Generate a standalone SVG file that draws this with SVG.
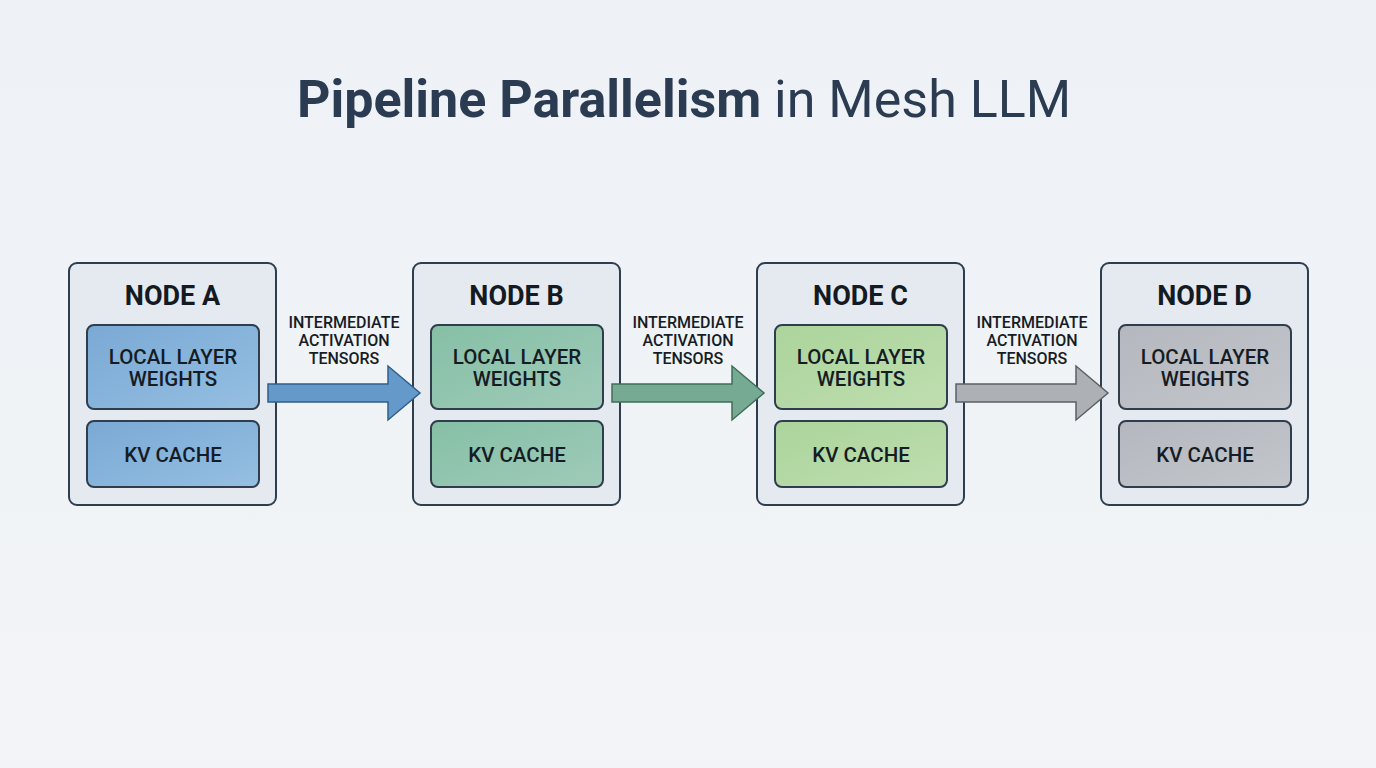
<svg xmlns="http://www.w3.org/2000/svg" width="1376" height="768" viewBox="0 0 1376 768">
<defs>
<linearGradient id="bg" x1="0" y1="0" x2="0" y2="1">
<stop offset="0" stop-color="#eef2f6"/>
<stop offset="1" stop-color="#f2f4f7"/>
</linearGradient>
<linearGradient id="gA" x1="0" y1="0" x2="1" y2="1"><stop offset="0" stop-color="#7aa9d4"/><stop offset="1" stop-color="#95bfe2"/></linearGradient>
<linearGradient id="gB" x1="0" y1="0" x2="1" y2="1"><stop offset="0" stop-color="#86bfa6"/><stop offset="1" stop-color="#9fcbb8"/></linearGradient>
<linearGradient id="gC" x1="0" y1="0" x2="1" y2="1"><stop offset="0" stop-color="#abd49b"/><stop offset="1" stop-color="#bfdeb0"/></linearGradient>
<linearGradient id="gD" x1="0" y1="0" x2="1" y2="1"><stop offset="0" stop-color="#b4b7bd"/><stop offset="1" stop-color="#c3c6cb"/></linearGradient>
<style>
.outer{fill:#e5eaf1;stroke:#2f3d4d;stroke-width:2}
.inner{stroke:#2f3d4d;stroke-width:2}
.title{font-family:Roboto,"Liberation Sans",sans-serif;font-size:27px;font-weight:700;fill:#141a22;text-anchor:middle;dominant-baseline:central}
.lbl{font-family:Roboto,"Liberation Sans",sans-serif;font-size:20.5px;font-weight:500;fill:#161c24;text-anchor:middle;dominant-baseline:central}
.edge{font-family:Roboto,"Liberation Sans",sans-serif;font-size:16px;font-weight:500;fill:#161c24;text-anchor:middle;dominant-baseline:central}
.arr{stroke-width:1.5;stroke-linejoin:miter}
</style>
</defs>
<rect width="1376" height="768" fill="url(#bg)"/>
<text x="684" y="117" text-anchor="middle" font-family="Roboto,'Liberation Sans',sans-serif" font-size="52" fill="#2b3c52"><tspan font-weight="700">Pipeline Parallelism</tspan> in Mesh LLM</text>

<g id="nodeA">
<rect class="outer" x="69" y="263" width="207" height="242" rx="8"/>
<text class="title" x="172.5" y="296">NODE A</text>
<rect class="inner" x="87" y="325" width="172" height="84" rx="7" fill="url(#gA)"/>
<text class="lbl" x="173" y="357">LOCAL LAYER</text>
<text class="lbl" x="173" y="379">WEIGHTS</text>
<rect class="inner" x="87" y="421" width="172" height="66" rx="7" fill="url(#gA)"/>
<text class="lbl" x="173" y="455">KV CACHE</text>
</g>
<g id="nodeB">
<rect class="outer" x="413" y="263" width="207" height="242" rx="8"/>
<text class="title" x="516.5" y="296">NODE B</text>
<rect class="inner" x="431" y="325" width="172" height="84" rx="7" fill="url(#gB)"/>
<text class="lbl" x="517" y="357">LOCAL LAYER</text>
<text class="lbl" x="517" y="379">WEIGHTS</text>
<rect class="inner" x="431" y="421" width="172" height="66" rx="7" fill="url(#gB)"/>
<text class="lbl" x="517" y="455">KV CACHE</text>
</g>
<g id="nodeC">
<rect class="outer" x="757" y="263" width="207" height="242" rx="8"/>
<text class="title" x="860.5" y="296">NODE C</text>
<rect class="inner" x="775" y="325" width="172" height="84" rx="7" fill="url(#gC)"/>
<text class="lbl" x="861" y="357">LOCAL LAYER</text>
<text class="lbl" x="861" y="379">WEIGHTS</text>
<rect class="inner" x="775" y="421" width="172" height="66" rx="7" fill="url(#gC)"/>
<text class="lbl" x="861" y="455">KV CACHE</text>
</g>
<g id="nodeD">
<rect class="outer" x="1101" y="263" width="207" height="242" rx="8"/>
<text class="title" x="1204.5" y="296">NODE D</text>
<rect class="inner" x="1119" y="325" width="172" height="84" rx="7" fill="url(#gD)"/>
<text class="lbl" x="1205" y="357">LOCAL LAYER</text>
<text class="lbl" x="1205" y="379">WEIGHTS</text>
<rect class="inner" x="1119" y="421" width="172" height="66" rx="7" fill="url(#gD)"/>
<text class="lbl" x="1205" y="455">KV CACHE</text>
</g>

<g id="connectors">
<polygon class="arr" points="268,384 388,384 388,366 420,393 388,420 388,402 268,402" fill="#6499c9" stroke="#2f5f8c"/>
<text class="edge" x="344" y="322">INTERMEDIATE</text>
<text class="edge" x="344" y="340">ACTIVATION</text>
<text class="edge" x="344" y="358">TENSORS</text>
<polygon class="arr" points="612,384 732,384 732,366 764,393 732,420 732,402 612,402" fill="#76aa92" stroke="#3f6e5a"/>
<text class="edge" x="688" y="322">INTERMEDIATE</text>
<text class="edge" x="688" y="340">ACTIVATION</text>
<text class="edge" x="688" y="358">TENSORS</text>
<polygon class="arr" points="956,384 1076,384 1076,366 1108,393 1076,420 1076,402 956,402" fill="#adb1b6" stroke="#5a6068"/>
<text class="edge" x="1032" y="322">INTERMEDIATE</text>
<text class="edge" x="1032" y="340">ACTIVATION</text>
<text class="edge" x="1032" y="358">TENSORS</text>
</g>
</svg>
